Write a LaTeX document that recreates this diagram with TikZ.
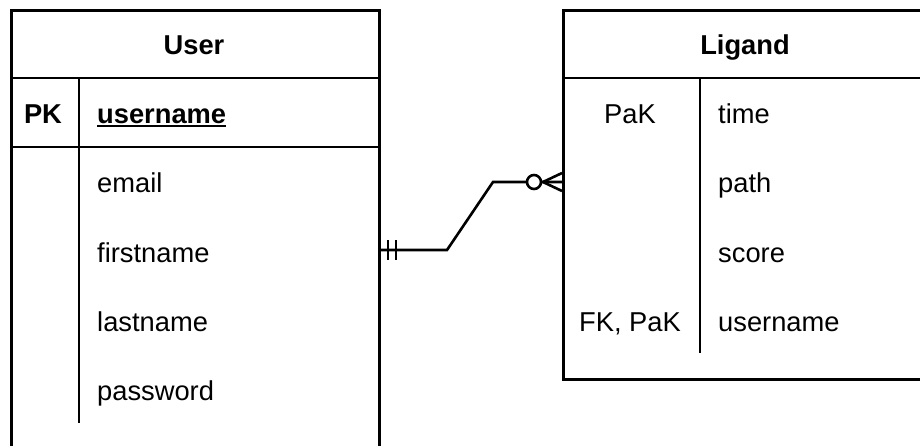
\documentclass[tikz,border=0pt]{standalone}
\usepackage{fontspec}
\setmainfont{Liberation Sans}
\begin{document}
\begin{tikzpicture}[x=1pt,y=-1pt,
  frame/.style={draw=black,line width=2.6pt,rectangle,inner sep=0pt,anchor=north west},
  sep/.style={draw=black,line width=2.6pt},
  txt/.style={inner sep=0pt,font=\fontsize{27.3}{32}\selectfont},
  fld/.style={txt,anchor=base west},
  key/.style={txt,anchor=base},
  ttl/.style={txt,anchor=base,font=\fontsize{27.3}{32}\selectfont\bfseries},
  rel/.style={draw=black,line width=2.6pt,line join=miter}]
\useasboundingbox (0,0) rectangle (920,445);
\clip (0,0) rectangle (920,445);
% tables
\node[frame,minimum width=368pt,minimum height=470pt] (user) at (10,9) {};
\node[frame,minimum width=372pt,minimum height=369pt] (ligand) at (562,9) {};
% User
\node[ttl] (usertitle) at (194,54) {User};
\draw[sep] (10,78) -- (378,78);
\draw[sep] (10,147) -- (378,147);
\draw[sep] (79,78) -- (79,423);
\node[key,font=\fontsize{27.3}{32}\selectfont\bfseries] (pk) at (43,123) {PK};
\node[fld,font=\fontsize{27.3}{32}\selectfont\bfseries] (uname) at (97,123) {username};
\draw[line width=2pt] ([yshift=-3pt]uname.base west) -- ([yshift=-3pt]uname.base east);
\node[fld] (email) at (97,192.5) {email};
\node[fld] (first) at (97,262) {firstname};
\node[fld] (last) at (97,331) {lastname};
\node[fld] (pass) at (97,400) {password};
% Ligand
\node[ttl] (ligtitle) at (745,54) {Ligand};
\draw[sep] (562,78) -- (920,78);
\draw[sep] (700,78) -- (700,353);
\node[key] (k1) at (630,123) {PaK};
\node[key] (k4) at (630,331) {FK, PaK};
\node[fld] (time) at (718,123) {time};
\node[fld] (path) at (718,192.5) {path};
\node[fld] (score) at (718,262) {score};
\node[fld] (luser) at (718,331) {username};
% relation
\coordinate (ua) at (378,250);
\coordinate (lb) at (562,182);
\coordinate (bend1) at (447,250);
\coordinate (bend2) at (493,182);
\coordinate (foot) at (543,182);
\coordinate (circ) at (534,182);
\draw[rel] (ua) -- (bend1) -- (bend2) -- (lb);
\draw[rel] (388,240) -- (388,260);
\draw[rel] (396,240) -- (396,260);
\draw[rel,fill=white] (circ) circle (7);
\draw[rel] (562,173) -- (foot) -- (562,191);
\end{tikzpicture}
\end{document}
